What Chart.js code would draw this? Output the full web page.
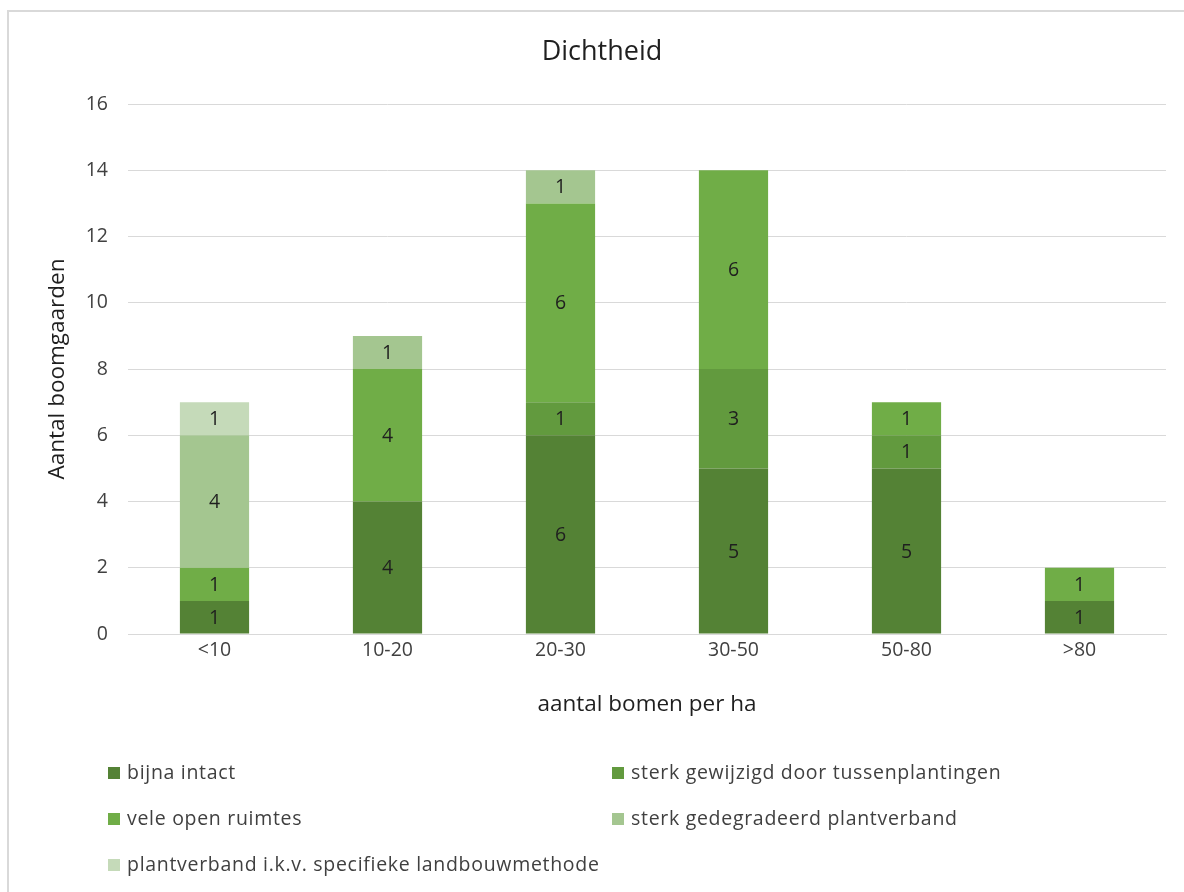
<!DOCTYPE html>
<html>
<head>
<meta charset="utf-8">
<title>Dichtheid</title>
<script src="https://cdn.jsdelivr.net/npm/chart.js@4/dist/chart.umd.min.js"></script>
<style>
  html, body { margin: 0; padding: 0; background: #ffffff; }
  #wrap { width: 1184px; height: 892px; position: relative; }
</style>
</head>
<body>
<div id="wrap"><canvas id="c" width="1184" height="892"></canvas></div>
<script>
// Density classes (trees per hectare)
const categories = ['<10', '10-20', '20-30', '30-50', '50-80', '>80'];

// Number of orchards per state of the planting pattern
const bijnaIntact        = [1, 4, 6, 5, 5, 1];
const sterkGewijzigd     = [0, 0, 1, 3, 1, 0];
const veleOpenRuimtes    = [1, 4, 6, 6, 1, 1];
const sterkGedegradeerd  = [4, 1, 1, 0, 0, 0];
const specifiekeMethode  = [1, 0, 0, 0, 0, 0];

const seriesNames = [
  'bijna intact',
  'sterk gewijzigd door tussenplantingen',
  'vele open ruimtes',
  'sterk gedegradeerd plantverband',
  'plantverband i.k.v. specifieke landbouwmethode'
];
const seriesColors = ['#548235', '#629A3E', '#70AD47', '#A4C690', '#C5DAB9'];

const FONT = '"Open Sans", sans-serif';

const datasets = [bijnaIntact, sterkGewijzigd, veleOpenRuimtes, sterkGedegradeerd, specifiekeMethode]
  .map((values, i) => ({
    label: seriesNames[i],
    data: values,
    backgroundColor: seriesColors[i],
    borderWidth: 0,
    categoryPercentage: 0.4,
    barPercentage: 1
  }));

// White background and the light frame around the chart
const framePlugin = {
  id: 'frame',
  beforeDraw(chart) {
    const ctx = chart.ctx;
    ctx.save();
    ctx.fillStyle = '#ffffff';
    ctx.fillRect(0, 0, chart.width, chart.height);
    ctx.strokeStyle = '#D9D9D9';
    ctx.lineWidth = 2;
    ctx.strokeRect(8, 11, chart.width + 20, chart.height + 20);
    ctx.restore();
  }
};

// Value written in the middle of every non-empty segment
const segmentLabels = {
  id: 'segmentLabels',
  afterDatasetsDraw(chart) {
    const ctx = chart.ctx;
    ctx.save();
    ctx.font = '19.5px ' + FONT;
    ctx.fillStyle = '#1F1F1F';
    ctx.textAlign = 'center';
    ctx.textBaseline = 'middle';
    chart.data.datasets.forEach((ds, di) => {
      const meta = chart.getDatasetMeta(di);
      meta.data.forEach((bar, i) => {
        const v = ds.data[i];
        if (!v) return;
        const p = bar.getProps(['x', 'y', 'base'], true);
        ctx.fillText(String(v), p.x, (p.y + p.base) / 2 + 1);
      });
    });
    ctx.restore();
  }
};

// Two-column legend below the axis title
const gridLegend = {
  id: 'gridLegend',
  afterDraw(chart) {
    const ctx = chart.ctx;
    const colX = [108, 612];
    const rowY = [773, 819, 865];
    ctx.save();
    ctx.font = '19.5px ' + FONT;
    ctx.letterSpacing = '0.7px';
    ctx.textAlign = 'left';
    ctx.textBaseline = 'middle';
    chart.data.datasets.forEach((ds, i) => {
      const x = colX[i % 2];
      const y = rowY[Math.floor(i / 2)];
      ctx.fillStyle = ds.backgroundColor;
      ctx.fillRect(x, y - 6, 12, 12);
      ctx.fillStyle = '#404040';
      ctx.fillText(ds.label, x + 19, y);
    });
    ctx.restore();
  }
};

new Chart(document.getElementById('c'), {
  type: 'bar',
  data: { labels: categories, datasets },
  options: {
    responsive: false,
    animation: false,
    layout: { padding: { left: 38, right: 18, top: 0, bottom: 168 } },
    plugins: {
      legend: { display: false },
      tooltip: { enabled: false },
      title: {
        display: true,
        text: 'Dichtheid',
        color: '#1F1F1F',
        font: { family: FONT, size: 27, weight: 'normal', lineHeight: 1.2 },
        padding: { top: 35.8, bottom: 35.8 }
      }
    },
    scales: {
      x: {
        stacked: true,
        grid: { display: false, drawTicks: false },
        border: { display: true, color: '#D9D9D9', width: 1 },
        ticks: { color: '#404040', font: { family: FONT, size: 19.5 }, padding: 5 },
        title: {
          display: true,
          text: 'aantal bomen per ha',
          color: '#1F1F1F',
          font: { family: FONT, size: 22.5, lineHeight: 1.2 },
          padding: { top: 0, bottom: 5.5 }
        },
        afterFit(scale) { scale.height = 90; }
      },
      y: {
        stacked: true,
        min: 0,
        max: 16,
        ticks: { stepSize: 2, color: '#404040', font: { family: FONT, size: 19.5 }, padding: 20 },
        grid: { color: '#D9D9D9', lineWidth: 1, drawTicks: false },
        border: { display: false },
        title: {
          display: true,
          text: 'Aantal boomgaarden',
          color: '#1F1F1F',
          font: { family: FONT, size: 22.5, lineHeight: 1.2 },
          padding: { top: 6.5, bottom: 0 }
        },
        afterFit(scale) { scale.width = 90; }
      }
    }
  },
  plugins: [framePlugin, segmentLabels, gridLegend]
});
</script>
</body>
</html>
